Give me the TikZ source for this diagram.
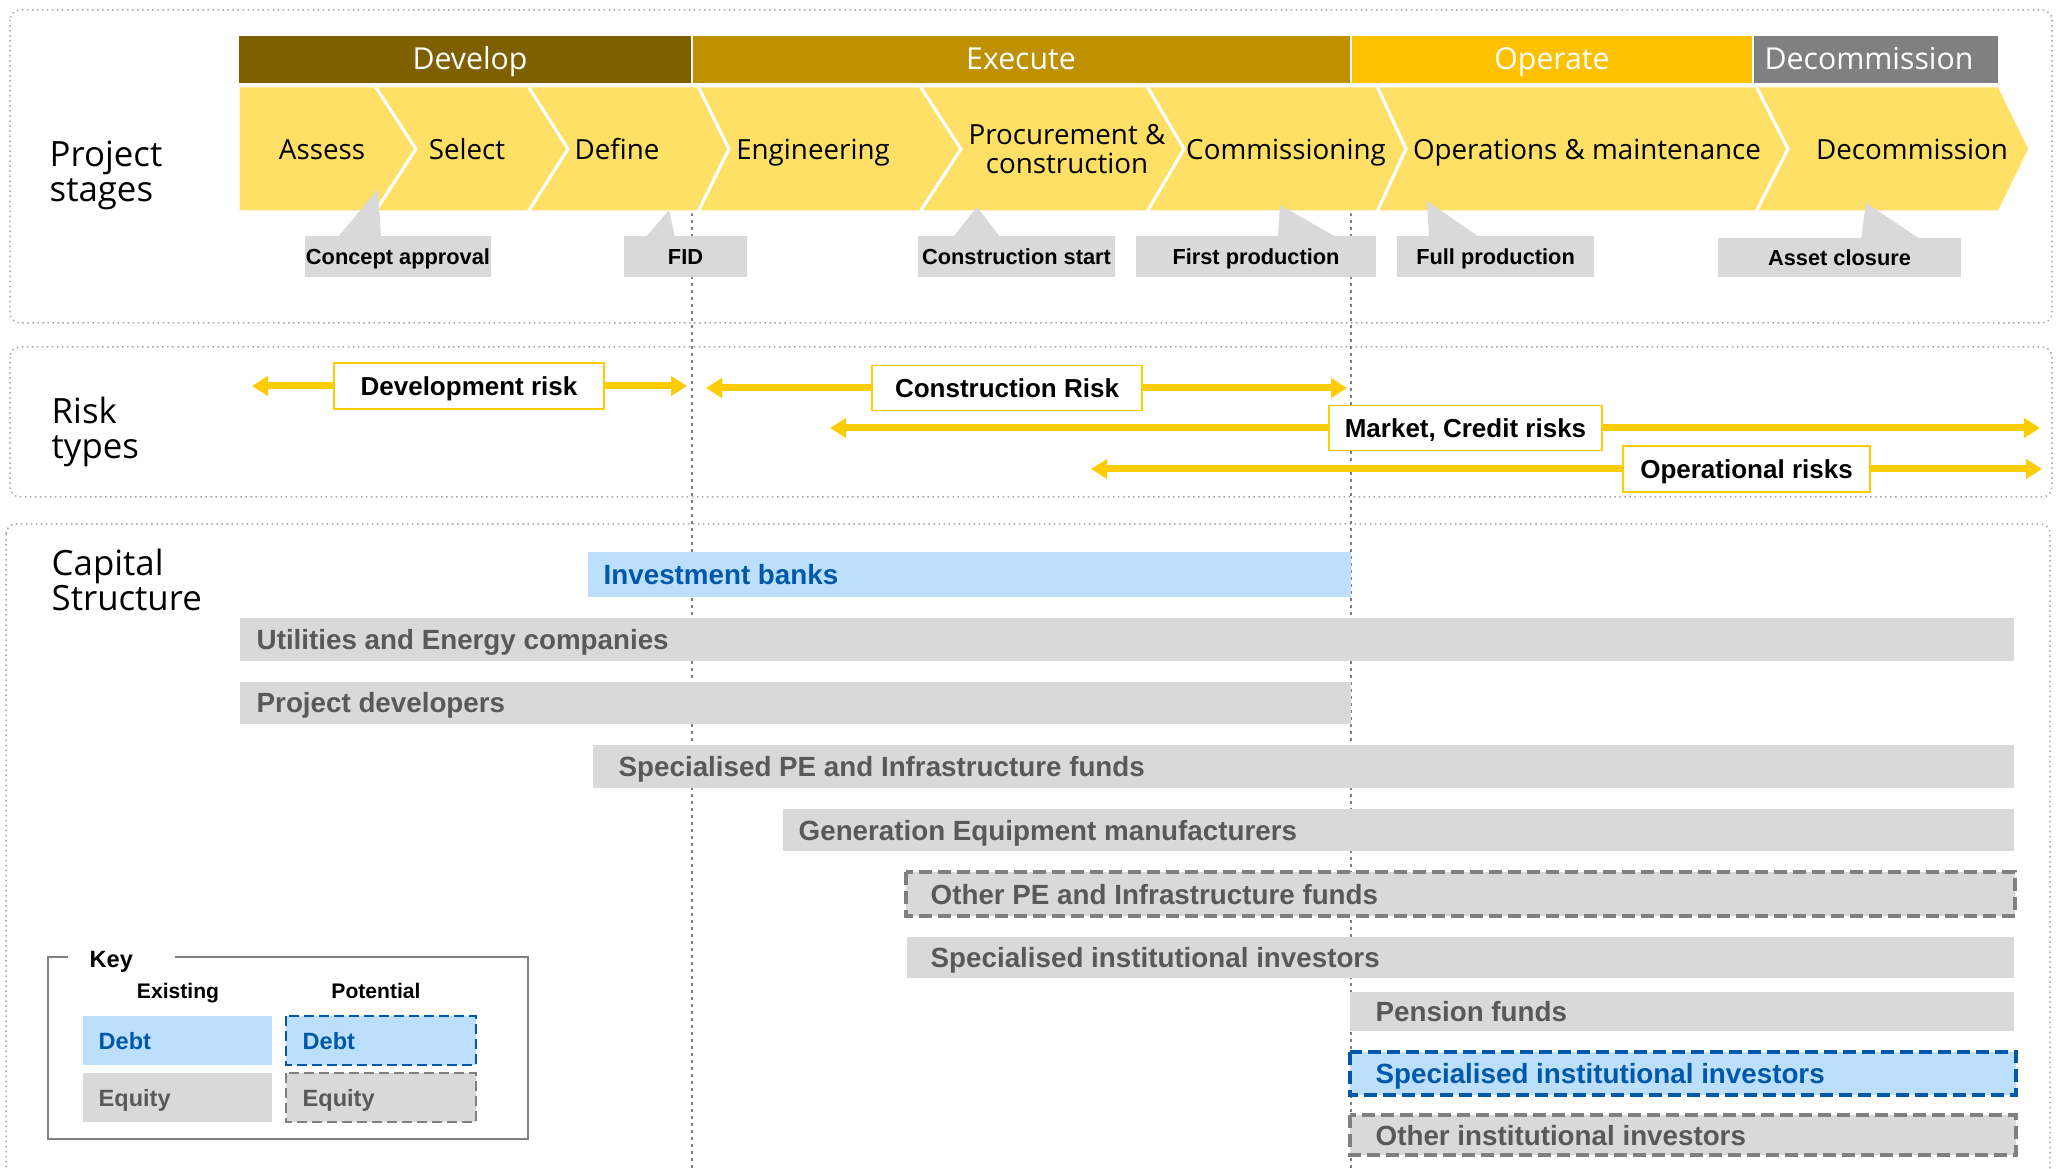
\documentclass[tikz,border=0pt]{standalone}
\usepackage{fontspec}
\setmainfont{Liberation Sans}
\newfontfamily\stagefont{Open Sans}
\usetikzlibrary{arrows.meta}

\definecolor{develop}{HTML}{7F6000}
\definecolor{execute}{HTML}{BF9000}
\definecolor{operate}{HTML}{FFC000}
\definecolor{decomm}{HTML}{808080}
\definecolor{stageyellow}{HTML}{FFE066}
\definecolor{msgray}{HTML}{D9D9D9}
\definecolor{riskyellow}{HTML}{FFCC00}
\definecolor{debtblue}{HTML}{BCDFFD}
\definecolor{debttext}{HTML}{0058A9}
\definecolor{equitytext}{HTML}{595959}
\definecolor{framegray}{HTML}{A6A6A6}
\definecolor{guidegray}{HTML}{808080}

\begin{document}
\begin{tikzpicture}[x=0.1mm,y=-0.1mm,
    frame/.style={draw=framegray,densely dotted,line width=0.15mm,rounded corners=1mm},
    guide/.style={draw=guidegray,dash pattern=on 0.35mm off 0.35mm,line width=0.15mm},
    phase/.style={anchor=base,text=white,font=\stagefont\fontsize{8.6}{10}\selectfont},
    stage/.style={anchor=base,align=center,font=\stagefont\fontsize{7.9}{8.25}\selectfont},
    section/.style={anchor=base west,align=left,inner sep=0pt,font=\stagefont\fontsize{9.9}{9.96}\selectfont},
    milestone/.style={fill=msgray,inner sep=0pt,text height=4.44pt,text depth=0pt,
        font=\bfseries\fontsize{6.2}{7}\selectfont},
    riskbox/.style={draw=riskyellow,fill=white,line width=0.15mm,inner sep=0pt,
        minimum height=4.6mm,text height=5.3pt,text depth=0pt,font=\bfseries\fontsize{7.4}{9}\selectfont},
    riskarrow/.style={draw=riskyellow,line width=0.7mm,-{Triangle[length=1.6mm,width=1.9mm]}},
    bartext/.style={anchor=base west,inner sep=0pt,text=equitytext,font=\bfseries\fontsize{7.9}{9}\selectfont},
    debtbar/.style={fill=debtblue},
    equitybar/.style={fill=msgray},
    newdebt/.style={fill=debtblue,draw=debttext,line width=0.35mm,dash pattern=on 1.3mm off 0.6mm},
    newequity/.style={fill=msgray,draw=guidegray,line width=0.35mm,dash pattern=on 1.3mm off 0.6mm},
    keytext/.style={anchor=base,inner sep=0pt,font=\bfseries\fontsize{6}{7}\selectfont}
  ]
\useasboundingbox (0,0) rectangle (2060,1169);

% section frames
\draw[frame] (10,10) rectangle (2052,323);
\draw[frame] (10,347) rectangle (2052,497);
\draw[frame] (6,524) rectangle (2050,1185);

% phase boundaries (FID and first production)
\draw[guide] (692,213) -- (692,1169);
\draw[guide] (1351,213) -- (1351,1169);

% phases
\filldraw[fill=develop,draw=white,line width=0.2mm] (238,35) rectangle (692,84);
\filldraw[fill=execute,draw=white,line width=0.2mm] (692,35) rectangle (1351,84);
\filldraw[fill=operate,draw=white,line width=0.2mm] (1351,35) rectangle (1753,84);
\filldraw[fill=decomm,draw=white,line width=0.2mm] (1753,35) rectangle (1999,84);
\node[phase] (develop) at (470,70) {Develop};
\node[phase] (execute) at (1021,70) {Execute};
\node[phase] (operate) at (1552,70) {Operate};
\node[phase] (decommission) at (1869,70) {Decommission};

% stage chevrons: left top / left point / right top / right point
\foreach \lt/\lp/\rt/\rp in {238/238/375/416, 375/416/528/568, 528/568/698/729,
    698/729/920/961, 920/961/1147/1184, 1147/1184/1377/1406,
    1377/1406/1756/1788, 1756/1788/1999/2030}
  \filldraw[fill=stageyellow,draw=white,line width=0.3mm]
    (\lt,86) -- (\rt,86) -- (\rp,149) -- (\rt,212) -- (\lt,212) -- (\lp,149) -- cycle;

\node[stage] (assess) at (322,160) {Assess};
\node[stage] (select) at (467,160) {Select};
\node[stage] (define) at (617,160) {Define};
\node[stage] (engineering) at (813,160) {Engineering};
\node[stage] (procurement) at (1067,174) {Procurement \&\\construction};
\node[stage] (commissioning) at (1286,160) {Commissioning};
\node[stage] (operations) at (1587,160) {Operations \& maintenance};
\node[stage] (decomstage) at (1912,160) {Decommission};

\node[section] (stages) at (49,202) {Project\\stages};

% milestones
\fill[msgray] (338,237) -- (378,189) -- (381,237) -- cycle;
\node[milestone,minimum width=18.6mm,minimum height=4.1mm] (concept) at (398,256.5) {Concept approval};
\fill[msgray] (646,237) -- (669,210) -- (675,237) -- cycle;
\node[milestone,minimum width=12.3mm,minimum height=4.1mm] (fid) at (685.5,256.5) {FID};
\fill[msgray] (953,237) -- (977,207) -- (1000,237) -- cycle;
\node[milestone,minimum width=19.7mm,minimum height=4.1mm] (constart) at (1016.5,256.5) {Construction start};
\fill[msgray] (1278,237) -- (1280,205) -- (1336,237) -- cycle;
\node[milestone,minimum width=24mm,minimum height=4.1mm] (firstprod) at (1256,256.5) {First production};
\fill[msgray] (1429,237) -- (1427,201) -- (1479,237) -- cycle;
\node[milestone,minimum width=19.7mm,minimum height=4.1mm] (fullprod) at (1495.5,256.5) {Full production};
\fill[msgray] (1861,239) -- (1866,203) -- (1920,239) -- cycle;
\node[milestone,minimum width=24.3mm,minimum height=3.9mm] (closure) at (1839.5,257.5) {Asset closure};

% risk types
\node[section] (risks) at (51,459) {Risk\\types};

\coordinate (devL) at (252,386);
\coordinate (devR) at (687,386);
\coordinate (conL) at (706,388);
\coordinate (conR) at (1347,388);
\coordinate (mktL) at (830,428);
\coordinate (mktR) at (2040,428);
\coordinate (opL) at (1091,469);
\coordinate (opR) at (2042,469);

\node[riskbox,minimum width=27mm] (devrisk) at (469,386) {Development risk};
\node[riskbox,minimum width=27mm,minimum height=4.5mm] (conrisk) at (1007,388) {Construction Risk};
\node[riskbox,minimum width=27.3mm,minimum height=4.5mm] (mktrisk) at (1465.5,428) {Market, Credit risks};
\node[riskbox,minimum width=24.7mm] (oprisk) at (1746.5,469) {Operational risks};

\draw[riskarrow] (devrisk.west) -- (devL);
\draw[riskarrow] (devrisk.east) -- (devR);
\draw[riskarrow] (conrisk.west) -- (conL);
\draw[riskarrow] (conrisk.east) -- (conR);
\draw[riskarrow] (mktrisk.west) -- (mktL);
\draw[riskarrow] (mktrisk.east) -- (mktR);
\draw[riskarrow] (oprisk.west) -- (opL);
\draw[riskarrow] (oprisk.east) -- (opR);

% capital structure
\node[section] (capital) at (51,611) {Capital\\Structure};

\fill[debtbar] (588,552) rectangle (1351,597);
\node[bartext,text=debttext] (banks) at (603,584.5) {Investment banks};
\fill[equitybar] (240,618) rectangle (2014,661);
\node[bartext] (utilities) at (256,649.5) {Utilities and Energy companies};
\fill[equitybar] (240,682) rectangle (1351,724);
\node[bartext] (developers) at (256,713) {Project developers};
\fill[equitybar] (593,745) rectangle (2014,788);
\node[bartext] (specfunds) at (618,776.5) {Specialised PE and Infrastructure funds};
\fill[equitybar] (783,809) rectangle (2014,851);
\node[bartext] (manufacturers) at (798,840) {Generation Equipment manufacturers};
\filldraw[newequity] (906,872) rectangle (2015,916);
\node[bartext] (otherfunds) at (930,904) {Other PE and Infrastructure funds};
\fill[equitybar] (907,937) rectangle (2014,978);
\node[bartext] (specinv) at (930,967.5) {Specialised institutional investors};
\fill[equitybar] (1350,992) rectangle (2014,1031);
\node[bartext] (pension) at (1375,1021.5) {Pension funds};
\filldraw[newdebt] (1350,1052) rectangle (2016,1095);
\node[bartext,text=debttext] (specinvdebt) at (1375,1083.5) {Specialised institutional investors};
\filldraw[newequity] (1350,1115) rectangle (2016,1155);
\node[bartext] (otherinv) at (1375,1145) {Other institutional investors};

% key
\draw[draw=guidegray,line width=0.2mm] (68,957) -- (48,957) -- (48,1139) -- (528,1139) -- (528,957) -- (175,957);
\node[anchor=base west,inner sep=0pt,font=\bfseries\fontsize{6.7}{8}\selectfont] (key) at (89,967) {Key};
\node[keytext] (existing) at (178,998) {Existing};
\node[keytext] (potential) at (376,998) {Potential};
\fill[debtbar] (83,1016) rectangle (272,1065);
\node[bartext,text=debttext,font=\bfseries\fontsize{6.7}{8}\selectfont] (debt) at (98,1049) {Debt};
\filldraw[newdebt,line width=0.17mm,dash pattern=on 1mm off 0.5mm] (286,1016) rectangle (476,1065);
\node[bartext,text=debttext,font=\bfseries\fontsize{6.7}{8}\selectfont] (newdebtkey) at (302,1049) {Debt};
\fill[equitybar] (83,1073) rectangle (272,1122);
\node[bartext,font=\bfseries\fontsize{6.7}{8}\selectfont] (equity) at (98,1106) {Equity};
\filldraw[newequity,line width=0.17mm,dash pattern=on 1mm off 0.5mm] (286,1073) rectangle (476,1122);
\node[bartext,font=\bfseries\fontsize{6.7}{8}\selectfont] (newequitykey) at (302,1106) {Equity};
\end{tikzpicture}
\end{document}
